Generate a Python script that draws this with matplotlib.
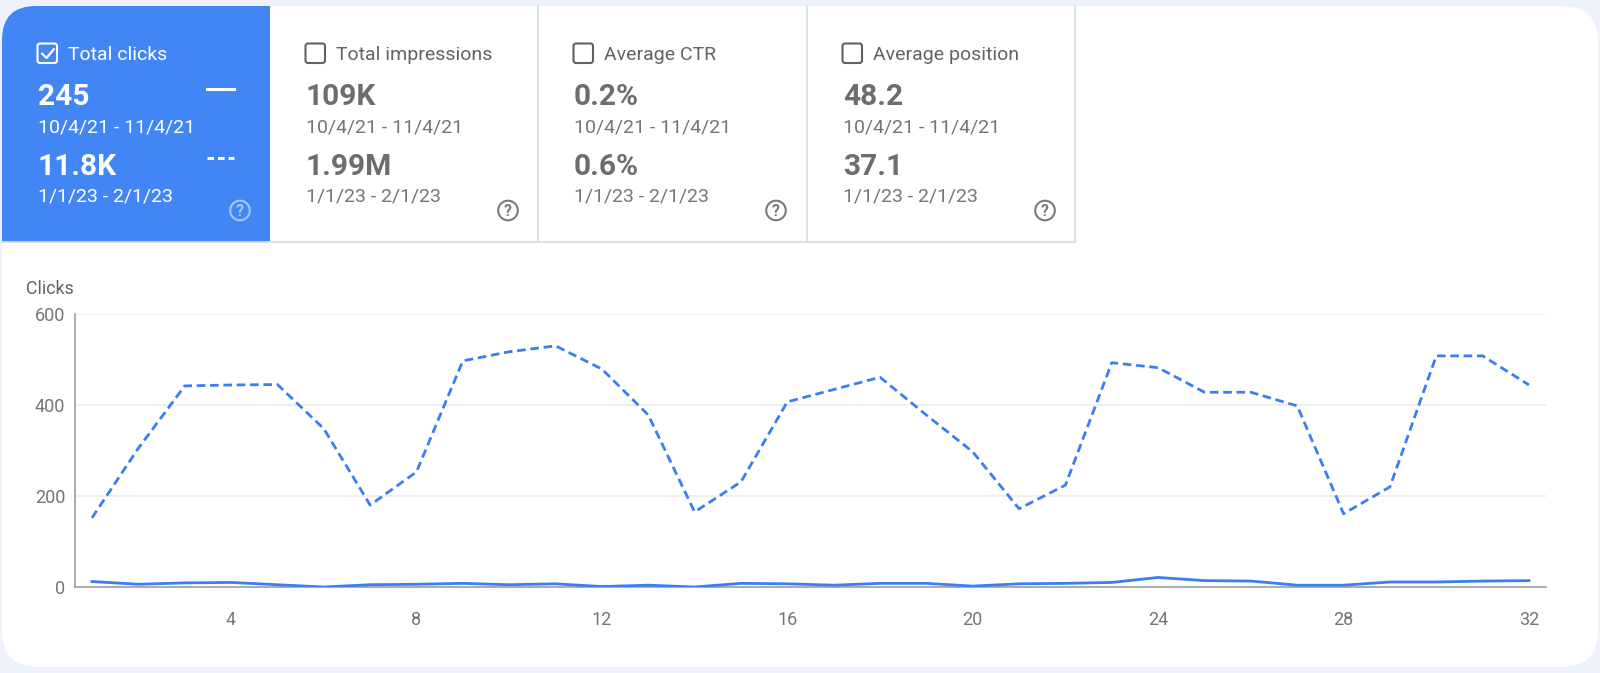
import matplotlib
matplotlib.use('Agg')
import matplotlib.pyplot as plt
from matplotlib.patches import FancyBboxPatch, Rectangle, Circle
from matplotlib.lines import Line2D

plt.rcParams['font.family'] = ['Roboto', 'DejaVu Sans']
plt.rcParams['lines.scale_dashes'] = False

# ---------------- data ----------------
days = list(range(1, 33))
clicks_2021 = [12, 6, 9, 10, 5, 0, 5, 6, 8, 5, 7,
               1, 4, 0, 8, 7, 4, 8, 8, 2, 7,
               8, 10, 21, 14, 13, 4, 4, 11, 11, 13, 14]
clicks_2023 = [152, 305, 442, 444, 445, 348, 180, 253, 497, 517, 530,
               479, 378, 165, 231, 407, 434, 461, 378, 297, 172,
               224, 493, 482, 428, 428, 398, 161, 220, 508, 508, 444]
x_ticks = [4, 8, 12, 16, 20, 24, 28, 32]
y_ticks = [0, 200, 400, 600]
y_label = 'Clicks'

card_titles = ['Total clicks', 'Total impressions', 'Average CTR', 'Average position']
card_values_2021 = ['245', '109K', '0.2%', '48.2']
card_values_2023 = ['11.8K', '1.99M', '0.6%', '37.1']
range_2021 = '10/4/21 - 11/4/21'
range_2023 = '1/1/23 - 2/1/23'

# ---------------- style ----------------
W, H = 1600, 673
BG = '#eef2fa'
BLUE = '#4285f4'
LINE = '#3a7ef2'
BORDER = '#dadce0'
GRAY_TITLE = '#5f6368'
GRAY_VAL = '#6d6d6d'
GRAY_DATE = '#757575'
TICK = '#757575'

fig = plt.figure(figsize=(16, 6.73), dpi=100)
fig.patch.set_facecolor(BG)

bg = fig.add_axes([0, 0, 1, 1], zorder=0)
bg.set_xlim(0, W)
bg.set_ylim(H, 0)
bg.axis('off')

# white main card
bg.add_patch(FancyBboxPatch((2, 6), 1596, 661, boxstyle='round,pad=0,rounding_size=36',
                            fc='white', ec='none'))

# blue selected card (only top-left rounded)
cx0, cy0, cw, ch = 2, 6, 268, 236
bg.add_patch(FancyBboxPatch((cx0, cy0), cw, ch, boxstyle='round,pad=0,rounding_size=34',
                            fc=BLUE, ec='none'))
bg.add_patch(Rectangle((cx0 + 40, cy0), cw - 40, ch, fc=BLUE, ec='none'))
bg.add_patch(Rectangle((cx0, cy0 + 40), cw, ch - 40, fc=BLUE, ec='none'))

card_x = [2, 270, 538, 807]
# dividers
for xv in [538, 807, 1075]:
    bg.add_line(Line2D([xv, xv], [6, 242], color=BORDER, lw=1.2))
bg.add_line(Line2D([2, 1075], [242, 242], color=BORDER, lw=1.2))

for i, x0 in enumerate(card_x):
    sel = (i == 0)
    c_title = 'white' if sel else GRAY_TITLE
    c_val = 'white' if sel else GRAY_VAL
    c_date = 'white' if sel else GRAY_DATE
    c_box = 'white' if sel else GRAY_TITLE
    # checkbox
    bg.add_patch(FancyBboxPatch((x0 + 35.5, 43.5), 19.5, 19.5,
                                boxstyle='round,pad=0,rounding_size=2.5',
                                fc='none', ec=c_box, lw=1.5))
    if sel:
        bg.add_line(Line2D([x0 + 40, x0 + 44.5, x0 + 52], [53.5, 58, 49],
                           color='white', lw=1.6, solid_capstyle='round',
                           solid_joinstyle='round'))
    bg.text(x0 + 66, 60.5, card_titles[i], fontsize=14, color=c_title,
            ha='left', va='baseline')
    bg.text(x0 + 36, 105, card_values_2021[i], fontsize=21.5, fontweight='bold',
            color=c_val, ha='left', va='baseline')
    bg.text(x0 + 36, 133, range_2021, fontsize=14, color=c_date,
            ha='left', va='baseline')
    bg.text(x0 + 36, 175, card_values_2023[i], fontsize=21.5, fontweight='bold',
            color=c_val, ha='left', va='baseline')
    bg.text(x0 + 36, 201.5, range_2023, fontsize=14, color=c_date,
            ha='left', va='baseline')
    # help icon
    c_help = '#a8c6fa' if sel else '#7a7a7a'
    hx, hy = x0 + 238, 210.5
    bg.add_patch(Circle((hx, hy), 9.8, fc='none', ec=c_help, lw=1.5))
    bg.text(hx, hy + 0.8, '?', fontsize=11.5, fontweight='bold', color=c_help,
            ha='center', va='center')

# legend line icons in selected card
bg.add_line(Line2D([207, 234], [89, 89], color='white', lw=2.2))
bg.add_line(Line2D([207, 234], [158, 158], color='white', lw=2.2, dashes=(4.7, 2.9)))

# y label
bg.text(26, 294.5, y_label, fontsize=12.8, color='#5f6368', ha='left', va='baseline')

# ---------------- chart ----------------
left, right, top, bottom = 75, 1546, 314, 587
ax = fig.add_axes([left / W, (H - bottom) / H, (right - left) / W, (bottom - top) / H], zorder=1)
ax.set_facecolor('none')
ax.plot(days, clicks_2023, color=LINE, lw=2.0, dashes=(6.2, 3.4), zorder=3)
ax.plot(days, clicks_2021, color=LINE, lw=2.0, zorder=3)

ax.set_xlim(0.633, 32.367)
ax.set_ylim(0, 600)
ax.set_xticks(x_ticks)
ax.set_xticklabels([str(t) for t in x_ticks])
ax.set_yticks(y_ticks)
ax.set_yticklabels([str(t) for t in y_ticks])
ax.grid(axis='y', color='#ebebeb', lw=1.1, zorder=0)
ax.set_axisbelow(True)
for s in ['top', 'right']:
    ax.spines[s].set_visible(False)
for s in ['left', 'bottom']:
    ax.spines[s].set_color('#9e9e9e')
    ax.spines[s].set_linewidth(1.2)
ax.tick_params(axis='x', length=0, pad=17, labelsize=13, labelcolor=TICK)
ax.tick_params(axis='y', length=0, pad=7.2, labelsize=13, labelcolor=TICK)

fig.savefig('out.png', dpi=100, facecolor=BG)
